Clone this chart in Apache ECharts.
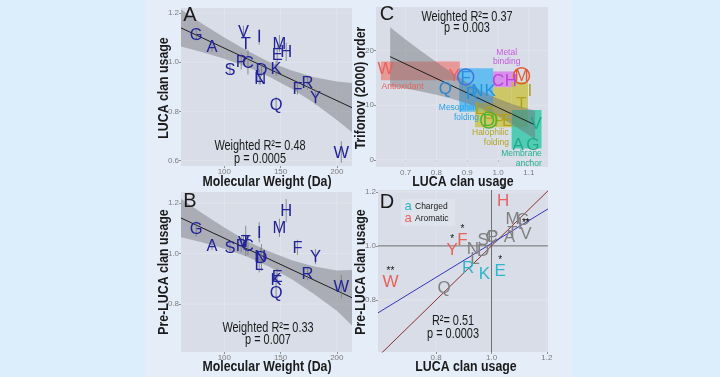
<!DOCTYPE html>
<html><head><meta charset="utf-8">
<script src="https://cdn.jsdelivr.net/npm/echarts@6/dist/echarts.min.js"></script>
<style>html,body{margin:0;padding:0;background:#dcedfc;}#c{width:720px;height:377px;}</style>
</head><body><div id="c"></div>
<script>
// ---------- data ----------
const aminoAcids   = ['G','A','S','P','V','T','C','L','I','N','D','Q','K','E','M','H','F','R','Y','W'];
const molWeight    = [75,89,105,115,117,119,121,131,131,132,133,146,146,147,149,155,165,174,181,204];
const lucaUsage    = [1.113,1.065,0.970,1.004,1.124,1.076,1.000,0.940,1.103,0.933,0.970,0.829,0.974,1.031,1.076,1.042,0.895,0.916,0.858,0.635];
const lucaErr      = [0.025,0.024,0.020,0.034,0.024,0.027,0.050,0.030,0.032,0.024,0.027,0.030,0.030,0.034,0.034,0.037,0.027,0.027,0.030,0.044];
const preLucaUsage = [1.098,1.034,1.025,1.034,1.045,1.050,1.034,0.955,1.084,0.990,0.985,0.847,0.897,0.910,1.102,1.170,1.025,0.920,0.988,0.869];
const preLucaErr   = [0.030,0.020,0.020,0.030,0.030,0.060,0.040,0.030,0.040,0.030,0.053,0.023,0.030,0.030,0.036,0.046,0.030,0.025,0.030,0.046];
const trifonovOrder= [2.9,2.9,8.6,7.3,6.7,10.4,14.6,9.5,12.8,12.8,7.3,13.1,12.8,7.3,15.4,14.6,15.2,12.2,15.5,16.8];
const trifonovClass= ['anchor','anchor','halo','halo','anchor','halo','metal','halo','halo','meso','haloD','mesoQ','meso','halo','metalM','metal','meso','meso','anti','anti'];
const circled      = ['D','M','F'];
const chemClass    = ['o','o','o','o','o','o','o','o','o','o','o','o','c','c','o','a','a','c','a','a'];
const significance = ['','','','','**','','','','','','','','','*','','*','*','','*','**'];

// regression fits & confidence bands
const fitX_A = [61.5,213.5], fitY_A = [1.139,0.815];
const bandX_A = [61.5,80,100,120,140,160,180,200,213.5];
const bandUp_A = [1.214,1.157,1.100,1.047,1.001,0.966,0.939,0.921,0.915];
const bandLo_A = [1.064,1.041,1.014,0.981,0.941,0.892,0.833,0.765,0.715];
const fitX_B = [61.5,213.5], fitY_B = [1.141,0.825];
const bandX_B = [61.5,80,100,120,140,160,180,200,213.5];
const bandUp_B = [1.217,1.161,1.103,1.050,1.008,0.974,0.949,0.933,0.935];
const bandLo_B = [1.065,1.045,1.019,0.988,0.948,0.898,0.839,0.773,0.715];
const fitX_C = [0.65,1.12], fitY_C = [18.9,6.4];
const bandX_C = [0.65,0.7,0.75,0.8,0.85,0.9,0.95,1.0,1.05,1.1,1.12];
const bandUp_C = [24.3,22.07,19.94,17.91,15.98,14.15,12.52,11.19,10.16,9.33,9.0];
const bandLo_C = [13.5,13.07,12.54,11.91,11.18,10.35,9.32,7.99,6.36,4.53,3.8];
const fitX_D = [0.59,1.204], fitY_D = [0.752,1.137];

// panel C group boxes: [xmin,xmax,ymin,ymax,group]
const groupBoxes = [
  [0.62,0.876,14.6,18.0,'anti'],
  [0.874,0.984,8.8,16.8,'meso'],
  [0.984,1.055,13.3,16.2,'metal'],
  [0.925,1.044,6.0,10.4,'halo'],
  [0.984,1.044,10.4,13.3,'halo'],
  [1.044,1.097,6.0,14.3,'halo'],
  [1.044,1.141,2.1,9.15,'anchor']
];
const groupLabels = [
  ['Antioxidant',0.690,13.5,'center','anti'],
  ['Mesophilic',0.938,9.6,'right','meso'],['folding',0.938,7.8,'right','meso'],
  ['Metal',1.028,19.6,'center','metal'],['binding',1.028,18.0,'center','metal'],
  ['Halophilic',1.035,5.0,'right','halo'],['folding',1.035,3.2,'right','halo'],
  ['Membrane',1.142,1.2,'right','anchor'],['anchor',1.142,-0.6,'right','anchor']
];

// tick labels
const ticksMW = [100,150,200];
const ticksUsageA = [0.6,0.8,1.0,1.2];
const ticksUsageB = [0.8,1.0,1.2];
const ticksLucaC = [0.7,0.8,0.9,1.0,1.1];
const ticksOrderC = [0,10,20];
const ticksD = [0.8,1.0,1.2];

// ---------- styles ----------
const FONT = "'Liberation Sans', Arial, Helvetica, sans-serif";
const NAVY = '#23239a';
const groupFill = {anti:'rgba(240,112,104,0.62)', meso:'rgba(30,170,245,0.62)', metal:'rgba(215,90,240,0.6)', halo:'rgba(200,188,40,0.68)', anchor:'rgba(30,196,160,0.72)'};
const groupText = {anti:'#e8625c', meso:'#2aa2e6', metal:'#c658e0', halo:'#b4a624', anchor:'#22b090'};
const classColor = {anti:'#e8625c', meso:'#2690dc', mesoQ:'#2a86d0', metal:'#c040d8', metalM:'#e05a30', halo:'#b0a220', haloD:'#4fb030', anchor:'#20a888'};
const circleColor = {F:'#3f74e0', M:'#e05a30', D:'#55b030'};
const chemColor = {o:'#808080', c:'#30b4c8', a:'#e8625c'};

const chart = echarts.init(document.getElementById('c'));

const grids = [
  {left:181, top:8,   width:171, height:158},
  {left:181, top:192, width:171, height:160},
  {left:376, top:7,   width:172, height:160},
  {left:378, top:190, width:170, height:162}
].map(g => Object.assign(g, {show:true, backgroundColor:'#d8dde8', borderWidth:0}));

function axis(i, min, max, ticks, dec) {
  return {gridIndex:i, type:'value', min, max,
    axisLine:{show:false},
    axisTick:{show:true, length:2, lineStyle:{color:'#909090'}, customValues:ticks},
    axisLabel:{customValues:ticks, fontSize:8, color:'#7d7d7d', margin:2, fontFamily:FONT,
      formatter: v => dec ? v.toFixed(dec) : String(Math.round(v))},
    splitLine:{show:false}};
}
const xAxes = [axis(0,61.5,213.5,ticksMW,0), axis(1,61.5,213.5,ticksMW,0), axis(2,0.604,1.162,ticksLucaC,1), axis(3,0.59,1.204,ticksD,1)];
const yAxes = [axis(0,0.578,1.22,ticksUsageA,1), axis(1,0.61,1.244,ticksUsageB,1), axis(2,-1.3,28,ticksOrderC,0), axis(3,0.607,1.207,ticksD,1)];

function gridLines(i, xs, ys, xmin, ymin, color, width, z) {
  const data = xs.map(v => [v, ymin, 0]).concat(ys.map(v => [xmin, v, 1]));
  return {type:'custom', xAxisIndex:i, yAxisIndex:i, silent:true, z: z||1, data,
    renderItem(params, api) {
      const cs = params.coordSys, p = api.coord([api.value(0), api.value(1)]);
      const sh = api.value(2) === 0 ? {x1:p[0], y1:cs.y, x2:p[0], y2:cs.y+cs.height}
                                    : {x1:cs.x, y1:p[1], x2:cs.x+cs.width, y2:p[1]};
      return {type:'line', shape:sh, style:{stroke:color, lineWidth:width}};
    }};
}
function band(i, bx, up, lo, fill, z) {
  return {type:'custom', xAxisIndex:i, yAxisIndex:i, silent:true, z: z||2, data:[[bx[0], up[0]]],
    renderItem(params, api) {
      const pts = [];
      for (let k = 0; k < bx.length; k++) pts.push(api.coord([bx[k], up[k]]));
      for (let k = bx.length-1; k >= 0; k--) pts.push(api.coord([bx[k], lo[k]]));
      return {type:'polygon', shape:{points:pts}, style:{fill}};
    }};
}
function fitLine(i, xs, ys, color, z) {
  return {type:'line', xAxisIndex:i, yAxisIndex:i, silent:true, z: z||3, symbol:'none',
    data: xs.map((x,k) => [x, ys[k]]), lineStyle:{color, width:1}, clip:true};
}
function errBars(i, xs, ys, es) {
  return {type:'custom', xAxisIndex:i, yAxisIndex:i, silent:true, z:4,
    data: xs.map((x,k) => [x, ys[k]-es[k], ys[k]+es[k]]),
    renderItem(params, api) {
      const a = api.coord([api.value(0), api.value(1)]), b = api.coord([api.value(0), api.value(2)]);
      return {type:'line', shape:{x1:a[0], y1:a[1], x2:b[0], y2:b[1]}, style:{stroke:'rgba(120,120,125,0.8)', lineWidth:1}};
    }};
}
function letters(i, xs, ys, colorFn, size, extra) {
  return {type:'custom', xAxisIndex:i, yAxisIndex:i, silent:true, z:6,
    data: xs.map((x,k) => [x, ys[k], k]),
    renderItem(params, api) {
      const k = api.value(2), p = api.coord([api.value(0), api.value(1)]);
      const ch = [{type:'text', x:p[0], y:p[1]+1, style:{text:aminoAcids[k], fill:colorFn(k), font:`${size}px ${FONT}`, align:'center', verticalAlign:'middle'}}];
      if (extra) extra(k, p, ch);
      return {type:'group', children:ch};
    }};
}

const series = [
  gridLines(0,[100,150,200],[0.6,0.8,1.0,1.2],61.5,0.578,'#e2e6ee',0.8),
  gridLines(1,[100,150,200],[0.8,1.0,1.2],61.5,0.61,'#e2e6ee',0.8),
  gridLines(2,ticksLucaC,ticksOrderC,0.604,-1.3,'#e2e6ee',0.8),
  gridLines(3,ticksD,ticksD,0.59,0.607,'#e2e6ee',0.8),
  // panel A
  band(0,bandX_A,bandUp_A,bandLo_A,'rgba(118,120,126,0.47)'),
  fitLine(0,fitX_A,fitY_A,'#1e1e1e'),
  errBars(0,molWeight,lucaUsage,lucaErr),
  letters(0,molWeight,lucaUsage,()=>NAVY,16.5),
  // panel B
  band(1,bandX_B,bandUp_B,bandLo_B,'rgba(118,120,126,0.47)'),
  fitLine(1,fitX_B,fitY_B,'#1e1e1e'),
  errBars(1,molWeight,preLucaUsage,preLucaErr),
  letters(1,molWeight,preLucaUsage,()=>NAVY,16.5),
  // panel C boxes
  {type:'custom', xAxisIndex:2, yAxisIndex:2, silent:true, z:2, data: groupBoxes.map((b,k)=>[b[0],b[2],k]),
    renderItem(params, api) {
      const b = groupBoxes[api.value(2)];
      const p1 = api.coord([b[0], b[3]]), p2 = api.coord([b[1], b[2]]);
      return {type:'rect', shape:{x:p1[0], y:p1[1], width:p2[0]-p1[0], height:p2[1]-p1[1]}, style:{fill:groupFill[b[4]]}};
    }},
  band(2,bandX_C,bandUp_C,bandLo_C,'rgba(110,112,118,0.45)',3),
  fitLine(2,fitX_C,fitY_C,'#1e1e1e',4),
  {type:'custom', xAxisIndex:2, yAxisIndex:2, silent:true, z:5, data: groupLabels.map((g,k)=>[g[1],g[2],k]),
    renderItem(params, api) {
      const g = groupLabels[api.value(2)], p = api.coord([g[1], g[2]]);
      return {type:'text', x:p[0], y:p[1], style:{text:g[0], fill:groupText[g[4]], font:`8.5px ${FONT}`, align:g[3], verticalAlign:'middle'}};
    }},
  letters(2,lucaUsage,trifonovOrder,k=>classColor[trifonovClass[k]],17,(k,p,ch)=>{
    const a = aminoAcids[k];
    if (circled.indexOf(a) >= 0) ch.push({type:'circle', shape:{cx:p[0], cy:p[1], r:8}, style:{fill:'none', stroke:circleColor[a], lineWidth:1.5}});
  }),
  // panel D
  gridLines(3,[1.0],[1.0],0.59,0.607,'#6e6e6e',1,2),
  fitLine(3,[0.59,1.204],[0.59,1.204],'#8a3030'),
  fitLine(3,fitX_D,fitY_D,'#3434c0'),
  letters(3,lucaUsage,preLucaUsage,k=>chemColor[chemClass[k]],17,(k,p,ch)=>{
    if (significance[k]) ch.push({type:'text', x:p[0], y:p[1]-10, style:{text:significance[k], fill:'#111', font:`10px ${FONT}`, align:'center', verticalAlign:'middle'}});
  })
];

function txt(x, y, text, size, opt) {
  opt = opt || {};
  return {type:'text', x, y, rotation: opt.rot || 0, scaleX: opt.sx || 1, z:10,
    style:{text, fill: opt.color || '#1a1a1a', font:`${opt.bold?'bold ':''}${size}px ${FONT}`, align: opt.align || 'center', verticalAlign:'middle'}};
}
const graphic = [
  {type:'rect', shape:{x:145, y:0, width:427, height:377}, style:{fill:'#e5edf9'}, z:-10, silent:true},
  // axis titles
  txt(267,182.5,'Molecular Weight (Da)',14,{bold:true,sx:0.88}),
  txt(267,367,'Molecular Weight (Da)',14,{bold:true,sx:0.88}),
  txt(463,182,'LUCA clan usage',14,{bold:true,sx:0.88}),
  txt(466,367,'LUCA clan usage',14,{bold:true,sx:0.88}),
  txt(164,88,'LUCA clan usage',14,{bold:true,sx:0.88,rot:Math.PI/2}),
  txt(164,272,'Pre-LUCA clan usage',14,{bold:true,sx:0.88,rot:Math.PI/2}),
  txt(361,88,'Trifonov (2000) order',14,{bold:true,sx:0.88,rot:Math.PI/2}),
  txt(361,272,'Pre-LUCA clan usage',14,{bold:true,sx:0.88,rot:Math.PI/2}),
  // panel letters
  txt(190,15,'A',20),
  txt(190,201,'B',20),
  txt(387,14,'C',20),
  txt(387,202,'D',20),
  // statistics
  txt(260,146.5,'Weighted R²= 0.48',14,{sx:0.78}),
  txt(260,159,'p = 0.0005',14,{sx:0.78}),
  txt(268,328,'Weighted R²= 0.33',14,{sx:0.78}),
  txt(268,340,'p = 0.007',14,{sx:0.78}),
  txt(467,17,'Weighted R²= 0.37',14,{sx:0.78}),
  txt(467,28.5,'p = 0.003',14,{sx:0.78}),
  txt(453,321.5,'R²= 0.51',14,{sx:0.78}),
  txt(453,334,'p = 0.0003',14,{sx:0.78}),
  // legend D
  {type:'rect', shape:{x:401, y:199, width:54, height:27}, style:{fill:'#dfe3ec'}, z:9, silent:true},
  txt(408,206,'a',13,{color:'#30b4c8'}),
  txt(415,206.5,'Charged',8.5,{align:'left'}),
  txt(408,218.5,'a',13,{color:'#e8625c'}),
  txt(415,219,'Aromatic',8.5,{align:'left'})
];

chart.setOption({animation:false, backgroundColor:'transparent', grid:grids, xAxis:xAxes, yAxis:yAxes, series, graphic});
</script></body></html>
